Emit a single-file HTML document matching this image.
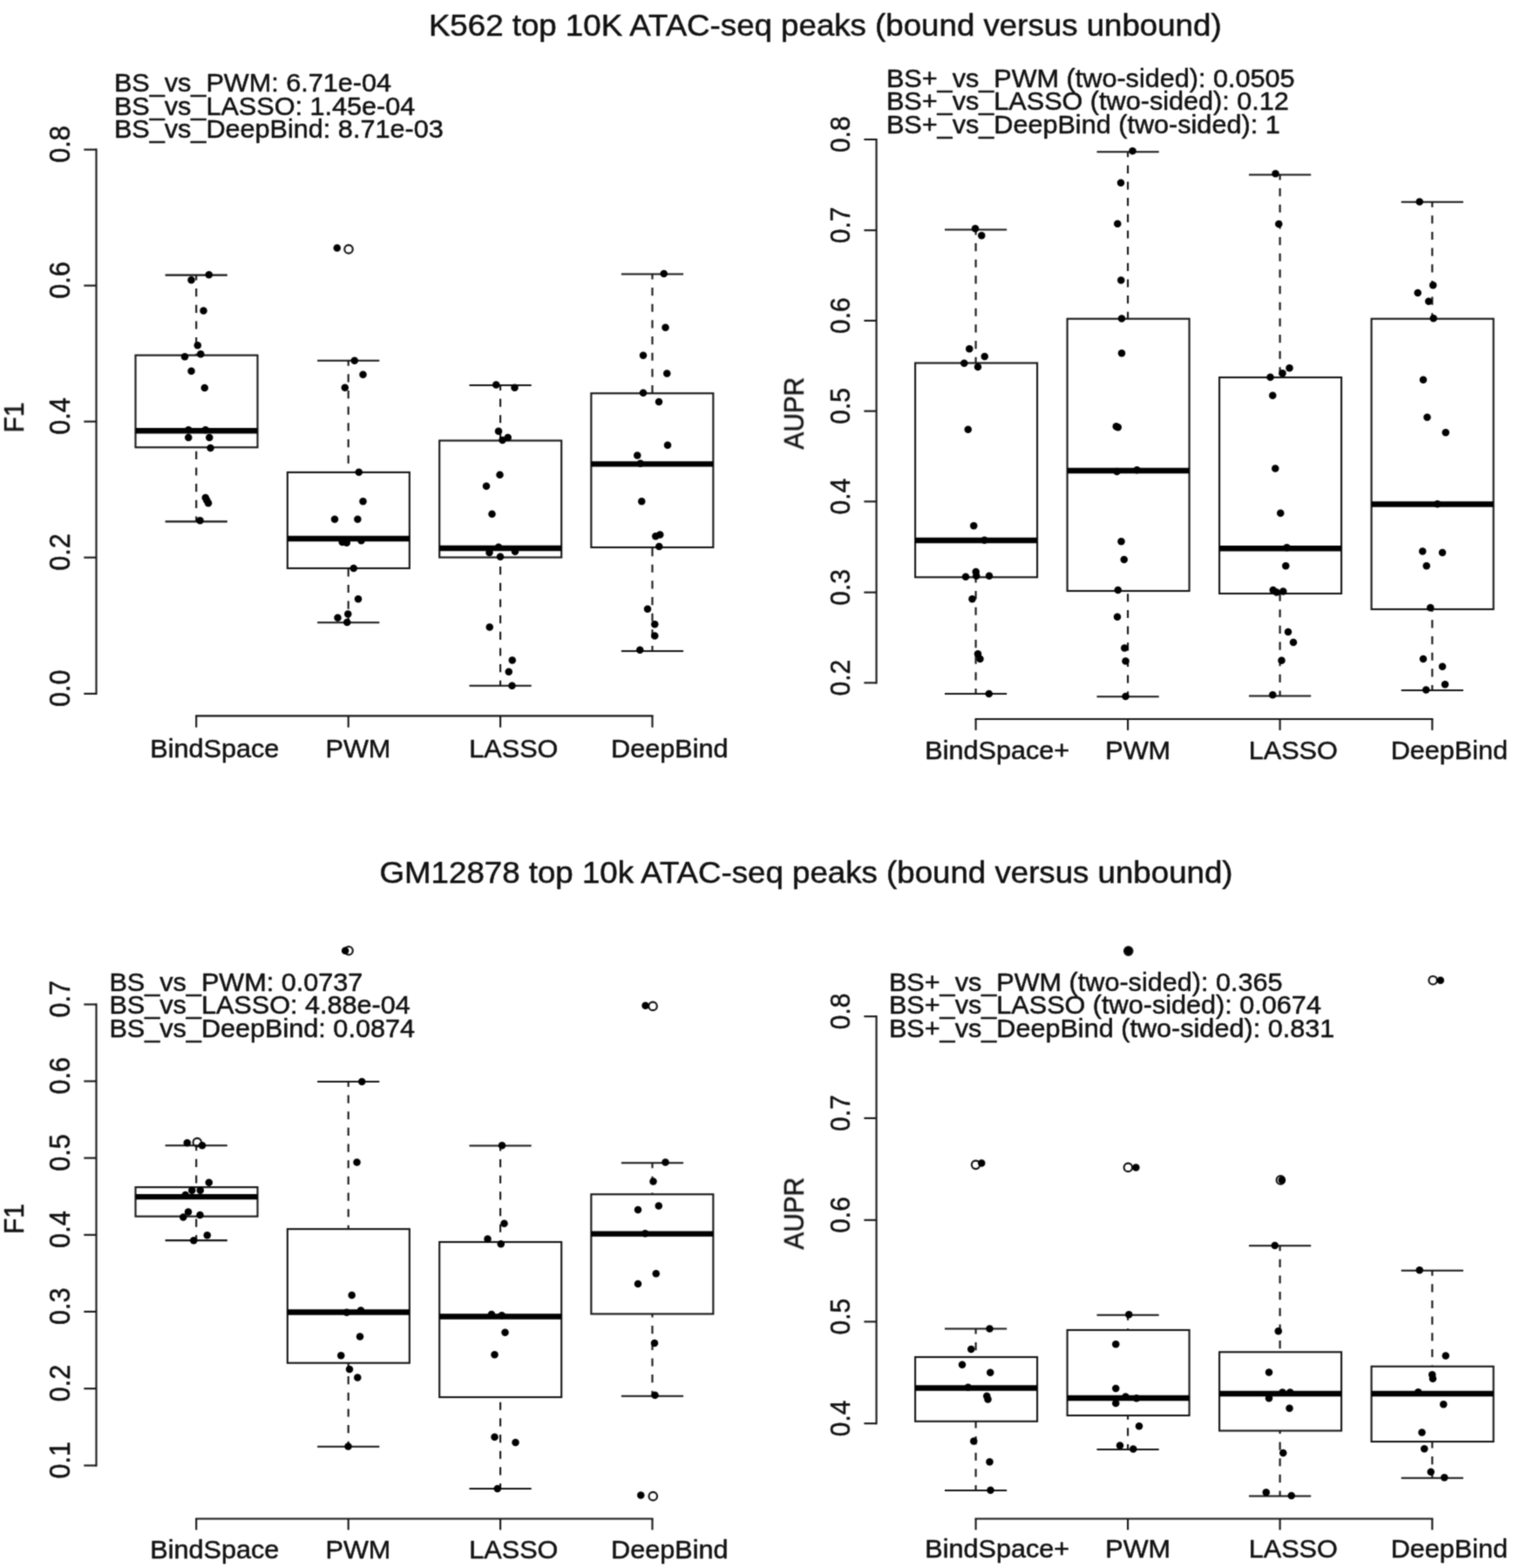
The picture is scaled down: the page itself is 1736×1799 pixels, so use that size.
<!DOCTYPE html>
<html lang="en">
<head>
<meta charset="utf-8">
<title>ATAC-seq peaks: bound versus unbound</title>
<style>
html,body{margin:0;padding:0;background:#fff;}
body{width:1736px;height:1799px;overflow:hidden;}
svg{display:block;}
.t{font-family:"Liberation Sans", Arial, Helvetica, sans-serif;fill:#111;stroke:#111;stroke-width:0.5px;stroke-linejoin:round;}
.l{stroke:#161616;stroke-width:2.1;fill:none;}
.d{stroke:#161616;stroke-width:2.1;stroke-dasharray:9.2 9.47;stroke-dashoffset:3.2;fill:none;}
.m{stroke:#000;stroke-width:6.4;fill:none;}
.b{stroke:#161616;stroke-width:2.1;fill:none;}
.p{fill:#000;}
.o{fill:none;stroke:#111;stroke-width:2.1;}
</style>
</head>
<body>
<svg width="1736" height="1799" viewBox="0 0 1736 1799">
<defs><filter id="soft" x="0" y="0" width="1736" height="1799" filterUnits="userSpaceOnUse" color-interpolation-filters="sRGB"><feConvolveMatrix order="3" kernelMatrix="0.04 0.12 0.04 0.12 0.36 0.12 0.04 0.12 0.04" divisor="1" edgeMode="duplicate" preserveAlpha="false"/></filter></defs>
<rect width="1736" height="1799" fill="#fff"/>
<g filter="url(#soft)">
<g id="p1">
<line class="l" x1="110.50" y1="170.60" x2="110.50" y2="796.95"/>
<line class="l" x1="96.30" y1="171.65" x2="110.50" y2="171.65"/>
<line class="l" x1="96.30" y1="327.65" x2="110.50" y2="327.65"/>
<line class="l" x1="96.30" y1="483.65" x2="110.50" y2="483.65"/>
<line class="l" x1="96.30" y1="639.65" x2="110.50" y2="639.65"/>
<line class="l" x1="96.30" y1="795.90" x2="110.50" y2="795.90"/>
<text class="t" transform="translate(80.30 165.45) rotate(-90) scale(0.9500 1)" font-size="32.3" text-anchor="middle">0.8</text>
<text class="t" transform="translate(80.30 321.45) rotate(-90) scale(0.9500 1)" font-size="32.3" text-anchor="middle">0.6</text>
<text class="t" transform="translate(80.30 477.45) rotate(-90) scale(0.9500 1)" font-size="32.3" text-anchor="middle">0.4</text>
<text class="t" transform="translate(80.30 633.45) rotate(-90) scale(0.9500 1)" font-size="32.3" text-anchor="middle">0.2</text>
<text class="t" transform="translate(80.30 789.70) rotate(-90) scale(0.9500 1)" font-size="32.3" text-anchor="middle">0.0</text>
<text class="t" transform="translate(27.00 479.00) rotate(-90) scale(0.9700 1)" font-size="30.9" text-anchor="middle">F1</text>
<g transform="translate(-0.4 0.5)">
<line class="l" x1="224.55" y1="820.90" x2="749.95" y2="820.90"/>
<line class="l" x1="225.60" y1="820.90" x2="225.60" y2="834.10"/>
<line class="l" x1="400.10" y1="820.90" x2="400.10" y2="834.10"/>
<line class="l" x1="574.50" y1="820.90" x2="574.50" y2="834.10"/>
<line class="l" x1="748.90" y1="820.90" x2="748.90" y2="834.10"/>
<line class="d" x1="225.60" y1="315.10" x2="225.60" y2="407.10"/>
<line class="d" x1="225.60" y1="597.90" x2="225.60" y2="512.75"/>
<line class="l" x1="190.00" y1="315.10" x2="261.20" y2="315.10"/>
<line class="l" x1="190.00" y1="597.90" x2="261.20" y2="597.90"/>
<rect class="b" x="155.90" y="407.10" width="140.00" height="105.65"/>
<line class="m" x1="155.90" y1="493.75" x2="295.90" y2="493.75"/>
<line class="d" x1="400.10" y1="413.30" x2="400.10" y2="541.40"/>
<line class="d" x1="400.10" y1="713.75" x2="400.10" y2="651.50"/>
<line class="l" x1="364.50" y1="413.30" x2="435.70" y2="413.30"/>
<line class="l" x1="364.50" y1="713.75" x2="435.70" y2="713.75"/>
<rect class="b" x="330.25" y="541.40" width="140.00" height="110.10"/>
<line class="m" x1="330.25" y1="617.50" x2="470.25" y2="617.50"/>
<line class="d" x1="574.50" y1="441.50" x2="574.50" y2="505.00"/>
<line class="d" x1="574.50" y1="786.25" x2="574.50" y2="639.00"/>
<line class="l" x1="538.90" y1="441.50" x2="610.10" y2="441.50"/>
<line class="l" x1="538.90" y1="786.25" x2="610.10" y2="786.25"/>
<rect class="b" x="504.60" y="505.00" width="140.00" height="134.00"/>
<line class="m" x1="504.60" y1="628.50" x2="644.60" y2="628.50"/>
<line class="d" x1="748.90" y1="314.00" x2="748.90" y2="450.75"/>
<line class="d" x1="748.90" y1="746.50" x2="748.90" y2="627.50"/>
<line class="l" x1="713.30" y1="314.00" x2="784.50" y2="314.00"/>
<line class="l" x1="713.30" y1="746.50" x2="784.50" y2="746.50"/>
<rect class="b" x="678.75" y="450.75" width="140.00" height="176.75"/>
<line class="m" x1="678.75" y1="531.90" x2="818.75" y2="531.90"/>
</g>
<g transform="translate(0.27 0.15)">
<circle class="o" cx="399.75" cy="285.75" r="4.75"/>
<circle class="p" cx="239.50" cy="315.00" r="4.25"/>
<circle class="p" cx="219.25" cy="321.00" r="4.25"/>
<circle class="p" cx="233.25" cy="356.25" r="4.25"/>
<circle class="p" cx="226.50" cy="396.00" r="4.25"/>
<circle class="p" cx="230.00" cy="406.00" r="4.25"/>
<circle class="p" cx="211.75" cy="409.00" r="4.25"/>
<circle class="p" cx="219.25" cy="425.50" r="4.25"/>
<circle class="p" cx="234.50" cy="444.75" r="4.25"/>
<circle class="p" cx="216.00" cy="493.10" r="4.25"/>
<circle class="p" cx="235.50" cy="493.10" r="4.25"/>
<circle class="p" cx="216.00" cy="501.75" r="4.25"/>
<circle class="p" cx="240.00" cy="501.75" r="4.25"/>
<circle class="p" cx="241.25" cy="513.75" r="4.25"/>
<circle class="p" cx="235.50" cy="570.75" r="4.25"/>
<circle class="p" cx="237.00" cy="573.75" r="4.25"/>
<circle class="p" cx="238.75" cy="577.00" r="4.25"/>
<circle class="p" cx="229.25" cy="597.00" r="4.25"/>
<circle class="p" cx="386.50" cy="284.30" r="4.25"/>
<circle class="p" cx="406.50" cy="413.50" r="4.25"/>
<circle class="p" cx="416.25" cy="429.50" r="4.25"/>
<circle class="p" cx="395.50" cy="444.50" r="4.25"/>
<circle class="p" cx="411.50" cy="541.50" r="4.25"/>
<circle class="p" cx="416.25" cy="575.00" r="4.25"/>
<circle class="p" cx="383.75" cy="595.50" r="4.25"/>
<circle class="p" cx="410.10" cy="595.50" r="4.25"/>
<circle class="p" cx="392.50" cy="621.75" r="4.25"/>
<circle class="p" cx="397.50" cy="622.50" r="4.25"/>
<circle class="p" cx="414.25" cy="620.00" r="4.25"/>
<circle class="p" cx="405.50" cy="651.75" r="4.25"/>
<circle class="p" cx="410.75" cy="687.00" r="4.25"/>
<circle class="p" cx="399.00" cy="704.25" r="4.25"/>
<circle class="p" cx="387.25" cy="708.50" r="4.25"/>
<circle class="p" cx="398.00" cy="713.75" r="4.25"/>
<circle class="p" cx="569.00" cy="441.25" r="4.25"/>
<circle class="p" cx="590.25" cy="444.50" r="4.25"/>
<circle class="p" cx="571.75" cy="494.50" r="4.25"/>
<circle class="p" cx="582.50" cy="501.90" r="4.25"/>
<circle class="p" cx="576.25" cy="504.75" r="4.25"/>
<circle class="p" cx="573.25" cy="544.60" r="4.25"/>
<circle class="p" cx="557.75" cy="557.50" r="4.25"/>
<circle class="p" cx="564.25" cy="589.60" r="4.25"/>
<circle class="p" cx="571.75" cy="627.50" r="4.25"/>
<circle class="p" cx="561.25" cy="633.75" r="4.25"/>
<circle class="p" cx="590.75" cy="632.50" r="4.25"/>
<circle class="p" cx="573.75" cy="638.50" r="4.25"/>
<circle class="p" cx="561.50" cy="719.25" r="4.25"/>
<circle class="p" cx="587.50" cy="757.25" r="4.25"/>
<circle class="p" cx="583.50" cy="770.50" r="4.25"/>
<circle class="p" cx="587.25" cy="786.50" r="4.25"/>
<circle class="p" cx="761.50" cy="313.75" r="4.25"/>
<circle class="p" cx="763.25" cy="375.50" r="4.25"/>
<circle class="p" cx="737.75" cy="407.50" r="4.25"/>
<circle class="p" cx="765.00" cy="428.25" r="4.25"/>
<circle class="p" cx="737.75" cy="450.50" r="4.25"/>
<circle class="p" cx="755.75" cy="460.75" r="4.25"/>
<circle class="p" cx="765.75" cy="510.60" r="4.25"/>
<circle class="p" cx="731.00" cy="522.25" r="4.25"/>
<circle class="p" cx="734.50" cy="531.60" r="4.25"/>
<circle class="p" cx="736.00" cy="575.10" r="4.25"/>
<circle class="p" cx="752.00" cy="615.00" r="4.25"/>
<circle class="p" cx="757.00" cy="613.25" r="4.25"/>
<circle class="p" cx="756.00" cy="626.75" r="4.25"/>
<circle class="p" cx="742.75" cy="698.50" r="4.25"/>
<circle class="p" cx="751.00" cy="716.00" r="4.25"/>
<circle class="p" cx="751.00" cy="729.25" r="4.25"/>
<circle class="p" cx="734.00" cy="745.50" r="4.25"/>
</g>
<text class="t" transform="translate(172.29 868.55) scale(1.0310 1)" font-size="29.7">BindSpace</text>
<text class="t" transform="translate(373.49 868.55) scale(1.0310 1)" font-size="29.7">PWM</text>
<text class="t" transform="translate(538.29 868.55) scale(1.0310 1)" font-size="29.7">LASSO</text>
<text class="t" transform="translate(701.09 868.55) scale(1.0310 1)" font-size="29.7">DeepBind</text>
<text class="t" transform="translate(130.89 105.20) scale(1.0310 1)" font-size="29.7">BS_vs_PWM: 6.71e-04</text>
<text class="t" transform="translate(130.89 131.80) scale(1.0310 1)" font-size="29.7">BS_vs_LASSO: 1.45e-04</text>
<text class="t" transform="translate(130.89 158.40) scale(1.0310 1)" font-size="29.7">BS_vs_DeepBind: 8.71e-03</text>
</g>
<g id="p2">
<line class="l" x1="1005.60" y1="158.95" x2="1005.60" y2="784.45"/>
<line class="l" x1="991.40" y1="160.00" x2="1005.60" y2="160.00"/>
<line class="l" x1="991.40" y1="264.20" x2="1005.60" y2="264.20"/>
<line class="l" x1="991.40" y1="367.90" x2="1005.60" y2="367.90"/>
<line class="l" x1="991.40" y1="471.65" x2="1005.60" y2="471.65"/>
<line class="l" x1="991.40" y1="575.40" x2="1005.60" y2="575.40"/>
<line class="l" x1="991.40" y1="679.65" x2="1005.60" y2="679.65"/>
<line class="l" x1="991.40" y1="783.40" x2="1005.60" y2="783.40"/>
<text class="t" transform="translate(974.80 154.20) rotate(-90) scale(0.9300 1)" font-size="32.3" text-anchor="middle">0.8</text>
<text class="t" transform="translate(974.80 258.40) rotate(-90) scale(0.9300 1)" font-size="32.3" text-anchor="middle">0.7</text>
<text class="t" transform="translate(974.80 362.10) rotate(-90) scale(0.9300 1)" font-size="32.3" text-anchor="middle">0.6</text>
<text class="t" transform="translate(974.80 465.85) rotate(-90) scale(0.9300 1)" font-size="32.3" text-anchor="middle">0.5</text>
<text class="t" transform="translate(974.80 569.60) rotate(-90) scale(0.9300 1)" font-size="32.3" text-anchor="middle">0.4</text>
<text class="t" transform="translate(974.80 673.85) rotate(-90) scale(0.9300 1)" font-size="32.3" text-anchor="middle">0.3</text>
<text class="t" transform="translate(974.80 777.60) rotate(-90) scale(0.9300 1)" font-size="32.3" text-anchor="middle">0.2</text>
<text class="t" transform="translate(921.90 474.20) rotate(-90) scale(0.9630 1)" font-size="30.9" text-anchor="middle">AUPR</text>
<g transform="translate(-0.4 0.5)">
<line class="l" x1="1118.95" y1="824.50" x2="1644.80" y2="824.50"/>
<line class="l" x1="1120.00" y1="824.50" x2="1120.00" y2="837.30"/>
<line class="l" x1="1294.50" y1="824.50" x2="1294.50" y2="837.30"/>
<line class="l" x1="1469.00" y1="824.50" x2="1469.00" y2="837.30"/>
<line class="l" x1="1643.75" y1="824.50" x2="1643.75" y2="837.30"/>
<line class="d" x1="1120.00" y1="263.00" x2="1120.00" y2="416.00"/>
<line class="d" x1="1120.00" y1="795.50" x2="1120.00" y2="661.75"/>
<line class="l" x1="1084.40" y1="263.00" x2="1155.60" y2="263.00"/>
<line class="l" x1="1084.40" y1="795.50" x2="1155.60" y2="795.50"/>
<rect class="b" x="1050.50" y="416.00" width="140.00" height="245.75"/>
<line class="m" x1="1050.50" y1="619.50" x2="1190.50" y2="619.50"/>
<line class="d" x1="1294.50" y1="173.75" x2="1294.50" y2="365.25"/>
<line class="d" x1="1294.50" y1="798.75" x2="1294.50" y2="677.50"/>
<line class="l" x1="1258.90" y1="173.75" x2="1330.10" y2="173.75"/>
<line class="l" x1="1258.90" y1="798.75" x2="1330.10" y2="798.75"/>
<rect class="b" x="1225.00" y="365.25" width="140.00" height="312.25"/>
<line class="m" x1="1225.00" y1="539.50" x2="1365.00" y2="539.50"/>
<line class="d" x1="1469.00" y1="200.00" x2="1469.00" y2="432.50"/>
<line class="d" x1="1469.00" y1="798.00" x2="1469.00" y2="680.50"/>
<line class="l" x1="1433.40" y1="200.00" x2="1504.60" y2="200.00"/>
<line class="l" x1="1433.40" y1="798.00" x2="1504.60" y2="798.00"/>
<rect class="b" x="1399.50" y="432.50" width="140.00" height="248.00"/>
<line class="m" x1="1399.50" y1="628.75" x2="1539.50" y2="628.75"/>
<line class="d" x1="1643.75" y1="231.25" x2="1643.75" y2="365.25"/>
<line class="d" x1="1643.75" y1="791.50" x2="1643.75" y2="698.50"/>
<line class="l" x1="1608.15" y1="231.25" x2="1679.35" y2="231.25"/>
<line class="l" x1="1608.15" y1="791.50" x2="1679.35" y2="791.50"/>
<rect class="b" x="1574.00" y="365.25" width="140.00" height="333.25"/>
<line class="m" x1="1574.00" y1="578.00" x2="1714.00" y2="578.00"/>
</g>
<g transform="translate(0.27 0.15)">
<circle class="p" cx="1118.75" cy="262.00" r="4.25"/>
<circle class="p" cx="1126.00" cy="270.00" r="4.25"/>
<circle class="p" cx="1112.00" cy="400.00" r="4.25"/>
<circle class="p" cx="1129.50" cy="408.75" r="4.25"/>
<circle class="p" cx="1106.00" cy="416.50" r="4.25"/>
<circle class="p" cx="1121.75" cy="420.75" r="4.25"/>
<circle class="p" cx="1110.50" cy="492.50" r="4.25"/>
<circle class="p" cx="1117.00" cy="603.00" r="4.25"/>
<circle class="p" cx="1129.25" cy="619.50" r="4.25"/>
<circle class="p" cx="1119.50" cy="655.75" r="4.25"/>
<circle class="p" cx="1107.75" cy="661.50" r="4.25"/>
<circle class="p" cx="1120.00" cy="660.50" r="4.25"/>
<circle class="p" cx="1134.75" cy="660.50" r="4.25"/>
<circle class="p" cx="1115.25" cy="687.00" r="4.25"/>
<circle class="p" cx="1121.75" cy="750.00" r="4.25"/>
<circle class="p" cx="1124.25" cy="755.75" r="4.25"/>
<circle class="p" cx="1134.50" cy="795.75" r="4.25"/>
<circle class="p" cx="1299.25" cy="173.00" r="4.25"/>
<circle class="p" cx="1285.75" cy="209.50" r="4.25"/>
<circle class="p" cx="1282.00" cy="256.50" r="4.25"/>
<circle class="p" cx="1286.00" cy="321.25" r="4.25"/>
<circle class="p" cx="1286.75" cy="365.25" r="4.25"/>
<circle class="p" cx="1286.75" cy="405.00" r="4.25"/>
<circle class="p" cx="1280.50" cy="489.00" r="4.25"/>
<circle class="p" cx="1282.50" cy="490.00" r="4.25"/>
<circle class="p" cx="1281.25" cy="540.75" r="4.25"/>
<circle class="p" cx="1304.25" cy="539.00" r="4.25"/>
<circle class="p" cx="1286.25" cy="621.00" r="4.25"/>
<circle class="p" cx="1289.50" cy="641.75" r="4.25"/>
<circle class="p" cx="1282.50" cy="676.75" r="4.25"/>
<circle class="p" cx="1281.75" cy="707.50" r="4.25"/>
<circle class="p" cx="1290.00" cy="743.25" r="4.25"/>
<circle class="p" cx="1291.25" cy="758.25" r="4.25"/>
<circle class="p" cx="1291.25" cy="798.75" r="4.25"/>
<circle class="p" cx="1463.25" cy="199.00" r="4.25"/>
<circle class="p" cx="1467.00" cy="256.75" r="4.25"/>
<circle class="p" cx="1479.25" cy="422.00" r="4.25"/>
<circle class="p" cx="1471.25" cy="428.00" r="4.25"/>
<circle class="p" cx="1457.25" cy="432.50" r="4.25"/>
<circle class="p" cx="1460.00" cy="453.50" r="4.25"/>
<circle class="p" cx="1463.00" cy="537.25" r="4.25"/>
<circle class="p" cx="1469.00" cy="588.50" r="4.25"/>
<circle class="p" cx="1476.25" cy="628.00" r="4.25"/>
<circle class="p" cx="1475.00" cy="649.00" r="4.25"/>
<circle class="p" cx="1460.50" cy="676.75" r="4.25"/>
<circle class="p" cx="1464.50" cy="679.25" r="4.25"/>
<circle class="p" cx="1472.00" cy="678.25" r="4.25"/>
<circle class="p" cx="1477.75" cy="724.75" r="4.25"/>
<circle class="p" cx="1483.75" cy="736.75" r="4.25"/>
<circle class="p" cx="1470.25" cy="757.50" r="4.25"/>
<circle class="p" cx="1460.00" cy="797.00" r="4.25"/>
<circle class="p" cx="1628.50" cy="231.25" r="4.25"/>
<circle class="p" cx="1644.00" cy="327.00" r="4.25"/>
<circle class="p" cx="1626.50" cy="335.75" r="4.25"/>
<circle class="p" cx="1639.00" cy="345.50" r="4.25"/>
<circle class="p" cx="1644.50" cy="365.00" r="4.25"/>
<circle class="p" cx="1632.75" cy="435.50" r="4.25"/>
<circle class="p" cx="1637.25" cy="478.50" r="4.25"/>
<circle class="p" cx="1658.50" cy="496.00" r="4.25"/>
<circle class="p" cx="1649.00" cy="578.00" r="4.25"/>
<circle class="p" cx="1632.00" cy="632.25" r="4.25"/>
<circle class="p" cx="1654.75" cy="633.75" r="4.25"/>
<circle class="p" cx="1636.50" cy="649.00" r="4.25"/>
<circle class="p" cx="1641.00" cy="697.00" r="4.25"/>
<circle class="p" cx="1632.75" cy="755.75" r="4.25"/>
<circle class="p" cx="1654.75" cy="764.50" r="4.25"/>
<circle class="p" cx="1657.75" cy="785.00" r="4.25"/>
<circle class="p" cx="1636.00" cy="791.25" r="4.25"/>
</g>
<text class="t" transform="translate(1061.29 871.25) scale(1.0310 1)" font-size="29.7">BindSpace+</text>
<text class="t" transform="translate(1268.24 871.25) scale(1.0310 1)" font-size="29.7">PWM</text>
<text class="t" transform="translate(1432.69 871.25) scale(1.0310 1)" font-size="29.7">LASSO</text>
<text class="t" transform="translate(1595.69 871.25) scale(1.0310 1)" font-size="29.7">DeepBind</text>
<text class="t" transform="translate(1016.89 99.95) scale(1.0310 1)" font-size="29.7">BS+_vs_PWM (two-sided): 0.0505</text>
<text class="t" transform="translate(1016.89 126.25) scale(1.0310 1)" font-size="29.7">BS+_vs_LASSO (two-sided): 0.12</text>
<text class="t" transform="translate(1016.89 152.60) scale(1.0310 1)" font-size="29.7">BS+_vs_DeepBind (two-sided): 1</text>
</g>
<g id="p3">
<line class="l" x1="110.50" y1="1151.35" x2="110.50" y2="1682.45"/>
<line class="l" x1="96.30" y1="1152.40" x2="110.50" y2="1152.40"/>
<line class="l" x1="96.30" y1="1240.50" x2="110.50" y2="1240.50"/>
<line class="l" x1="96.30" y1="1328.60" x2="110.50" y2="1328.60"/>
<line class="l" x1="96.30" y1="1416.80" x2="110.50" y2="1416.80"/>
<line class="l" x1="96.30" y1="1504.90" x2="110.50" y2="1504.90"/>
<line class="l" x1="96.30" y1="1593.15" x2="110.50" y2="1593.15"/>
<line class="l" x1="96.30" y1="1681.40" x2="110.50" y2="1681.40"/>
<text class="t" transform="translate(80.30 1146.20) rotate(-90) scale(0.9500 1)" font-size="32.3" text-anchor="middle">0.7</text>
<text class="t" transform="translate(80.30 1234.30) rotate(-90) scale(0.9500 1)" font-size="32.3" text-anchor="middle">0.6</text>
<text class="t" transform="translate(80.30 1322.40) rotate(-90) scale(0.9500 1)" font-size="32.3" text-anchor="middle">0.5</text>
<text class="t" transform="translate(80.30 1410.60) rotate(-90) scale(0.9500 1)" font-size="32.3" text-anchor="middle">0.4</text>
<text class="t" transform="translate(80.30 1498.70) rotate(-90) scale(0.9500 1)" font-size="32.3" text-anchor="middle">0.3</text>
<text class="t" transform="translate(80.30 1586.95) rotate(-90) scale(0.9500 1)" font-size="32.3" text-anchor="middle">0.2</text>
<text class="t" transform="translate(80.30 1675.20) rotate(-90) scale(0.9500 1)" font-size="32.3" text-anchor="middle">0.1</text>
<text class="t" transform="translate(27.00 1398.50) rotate(-90) scale(0.9700 1)" font-size="30.9" text-anchor="middle">F1</text>
<g transform="translate(-0.4 0.5)">
<line class="l" x1="224.55" y1="1742.00" x2="749.95" y2="1742.00"/>
<line class="l" x1="225.60" y1="1742.00" x2="225.60" y2="1754.80"/>
<line class="l" x1="400.10" y1="1742.00" x2="400.10" y2="1754.80"/>
<line class="l" x1="574.50" y1="1742.00" x2="574.50" y2="1754.80"/>
<line class="l" x1="748.90" y1="1742.00" x2="748.90" y2="1754.80"/>
<line class="d" x1="225.60" y1="1313.75" x2="225.60" y2="1361.60"/>
<line class="d" x1="225.60" y1="1422.60" x2="225.60" y2="1395.10"/>
<line class="l" x1="190.00" y1="1313.75" x2="261.20" y2="1313.75"/>
<line class="l" x1="190.00" y1="1422.60" x2="261.20" y2="1422.60"/>
<rect class="b" x="155.90" y="1361.60" width="140.00" height="33.50"/>
<line class="m" x1="155.90" y1="1372.60" x2="295.90" y2="1372.60"/>
<line class="d" x1="400.10" y1="1240.50" x2="400.10" y2="1409.60"/>
<line class="d" x1="400.10" y1="1659.25" x2="400.10" y2="1563.25"/>
<line class="l" x1="364.50" y1="1240.50" x2="435.70" y2="1240.50"/>
<line class="l" x1="364.50" y1="1659.25" x2="435.70" y2="1659.25"/>
<rect class="b" x="330.25" y="1409.60" width="140.00" height="153.65"/>
<line class="m" x1="330.25" y1="1505.00" x2="470.25" y2="1505.00"/>
<line class="d" x1="574.50" y1="1314.00" x2="574.50" y2="1424.50"/>
<line class="d" x1="574.50" y1="1707.50" x2="574.50" y2="1602.50"/>
<line class="l" x1="538.90" y1="1314.00" x2="610.10" y2="1314.00"/>
<line class="l" x1="538.90" y1="1707.50" x2="610.10" y2="1707.50"/>
<rect class="b" x="504.60" y="1424.50" width="140.00" height="178.00"/>
<line class="m" x1="504.60" y1="1510.00" x2="644.60" y2="1510.00"/>
<line class="d" x1="748.90" y1="1333.75" x2="748.90" y2="1369.75"/>
<line class="d" x1="748.90" y1="1601.25" x2="748.90" y2="1507.00"/>
<line class="l" x1="713.30" y1="1333.75" x2="784.50" y2="1333.75"/>
<line class="l" x1="713.30" y1="1601.25" x2="784.50" y2="1601.25"/>
<rect class="b" x="678.75" y="1369.75" width="140.00" height="137.25"/>
<line class="m" x1="678.75" y1="1415.10" x2="818.75" y2="1415.10"/>
</g>
<g transform="translate(0.27 0.15)">
<circle class="o" cx="226.00" cy="1310.50" r="4.75"/>
<circle class="o" cx="399.80" cy="1090.60" r="4.75"/>
<circle class="o" cx="748.80" cy="1154.25" r="4.75"/>
<circle class="o" cx="749.00" cy="1716.50" r="4.75"/>
<circle class="p" cx="214.50" cy="1311.00" r="4.25"/>
<circle class="p" cx="231.75" cy="1314.00" r="4.25"/>
<circle class="p" cx="239.50" cy="1356.50" r="4.25"/>
<circle class="p" cx="220.00" cy="1365.50" r="4.25"/>
<circle class="p" cx="229.50" cy="1365.50" r="4.25"/>
<circle class="p" cx="212.50" cy="1370.75" r="4.25"/>
<circle class="p" cx="215.75" cy="1390.25" r="4.25"/>
<circle class="p" cx="210.00" cy="1396.25" r="4.25"/>
<circle class="p" cx="229.25" cy="1393.75" r="4.25"/>
<circle class="p" cx="237.50" cy="1417.00" r="4.25"/>
<circle class="p" cx="222.00" cy="1423.00" r="4.25"/>
<circle class="p" cx="395.83" cy="1090.60" r="4.25"/>
<circle class="p" cx="415.00" cy="1240.75" r="4.25"/>
<circle class="p" cx="409.25" cy="1333.25" r="4.25"/>
<circle class="p" cx="403.40" cy="1485.75" r="4.25"/>
<circle class="p" cx="397.50" cy="1505.50" r="4.25"/>
<circle class="p" cx="413.75" cy="1503.25" r="4.25"/>
<circle class="p" cx="412.75" cy="1533.25" r="4.25"/>
<circle class="p" cx="391.00" cy="1555.00" r="4.25"/>
<circle class="p" cx="400.75" cy="1570.75" r="4.25"/>
<circle class="p" cx="410.00" cy="1580.25" r="4.25"/>
<circle class="p" cx="399.25" cy="1659.25" r="4.25"/>
<circle class="p" cx="575.75" cy="1314.00" r="4.25"/>
<circle class="p" cx="578.25" cy="1403.60" r="4.25"/>
<circle class="p" cx="559.25" cy="1421.40" r="4.25"/>
<circle class="p" cx="574.50" cy="1427.10" r="4.25"/>
<circle class="p" cx="563.75" cy="1507.75" r="4.25"/>
<circle class="p" cx="575.50" cy="1509.00" r="4.25"/>
<circle class="p" cx="579.25" cy="1528.50" r="4.25"/>
<circle class="p" cx="567.25" cy="1554.00" r="4.25"/>
<circle class="p" cx="567.25" cy="1648.50" r="4.25"/>
<circle class="p" cx="591.25" cy="1654.75" r="4.25"/>
<circle class="p" cx="570.50" cy="1707.75" r="4.25"/>
<circle class="p" cx="740.30" cy="1153.70" r="4.25"/>
<circle class="p" cx="763.25" cy="1333.25" r="4.25"/>
<circle class="p" cx="749.25" cy="1355.40" r="4.25"/>
<circle class="p" cx="755.50" cy="1383.25" r="4.25"/>
<circle class="p" cx="731.75" cy="1387.75" r="4.25"/>
<circle class="p" cx="740.00" cy="1415.00" r="4.25"/>
<circle class="p" cx="752.50" cy="1461.10" r="4.25"/>
<circle class="p" cx="731.75" cy="1472.75" r="4.25"/>
<circle class="p" cx="750.75" cy="1540.75" r="4.25"/>
<circle class="p" cx="751.25" cy="1600.50" r="4.25"/>
<circle class="p" cx="735.00" cy="1715.25" r="4.25"/>
</g>
<text class="t" transform="translate(172.29 1787.50) scale(1.0310 1)" font-size="29.7">BindSpace</text>
<text class="t" transform="translate(373.49 1787.50) scale(1.0310 1)" font-size="29.7">PWM</text>
<text class="t" transform="translate(538.29 1787.50) scale(1.0310 1)" font-size="29.7">LASSO</text>
<text class="t" transform="translate(701.09 1787.50) scale(1.0310 1)" font-size="29.7">DeepBind</text>
<text class="t" transform="translate(125.39 1136.50) scale(1.0310 1)" font-size="29.7">BS_vs_PWM: 0.0737</text>
<text class="t" transform="translate(125.39 1163.20) scale(1.0310 1)" font-size="29.7">BS_vs_LASSO: 4.88e-04</text>
<text class="t" transform="translate(125.39 1189.80) scale(1.0310 1)" font-size="29.7">BS_vs_DeepBind: 0.0874</text>
</g>
<g id="p4">
<line class="l" x1="1005.60" y1="1165.10" x2="1005.60" y2="1634.20"/>
<line class="l" x1="991.40" y1="1166.15" x2="1005.60" y2="1166.15"/>
<line class="l" x1="991.40" y1="1282.90" x2="1005.60" y2="1282.90"/>
<line class="l" x1="991.40" y1="1399.80" x2="1005.60" y2="1399.80"/>
<line class="l" x1="991.40" y1="1516.40" x2="1005.60" y2="1516.40"/>
<line class="l" x1="991.40" y1="1633.15" x2="1005.60" y2="1633.15"/>
<text class="t" transform="translate(974.80 1160.35) rotate(-90) scale(0.9300 1)" font-size="32.3" text-anchor="middle">0.8</text>
<text class="t" transform="translate(974.80 1277.10) rotate(-90) scale(0.9300 1)" font-size="32.3" text-anchor="middle">0.7</text>
<text class="t" transform="translate(974.80 1394.00) rotate(-90) scale(0.9300 1)" font-size="32.3" text-anchor="middle">0.6</text>
<text class="t" transform="translate(974.80 1510.60) rotate(-90) scale(0.9300 1)" font-size="32.3" text-anchor="middle">0.5</text>
<text class="t" transform="translate(974.80 1627.35) rotate(-90) scale(0.9300 1)" font-size="32.3" text-anchor="middle">0.4</text>
<text class="t" transform="translate(921.90 1392.20) rotate(-90) scale(0.9630 1)" font-size="30.9" text-anchor="middle">AUPR</text>
<g transform="translate(-0.4 0.5)">
<line class="l" x1="1118.95" y1="1742.00" x2="1644.80" y2="1742.00"/>
<line class="l" x1="1120.00" y1="1742.00" x2="1120.00" y2="1754.80"/>
<line class="l" x1="1294.50" y1="1742.00" x2="1294.50" y2="1754.80"/>
<line class="l" x1="1469.00" y1="1742.00" x2="1469.00" y2="1754.80"/>
<line class="l" x1="1643.75" y1="1742.00" x2="1643.75" y2="1754.80"/>
<line class="d" x1="1120.00" y1="1524.00" x2="1120.00" y2="1556.50"/>
<line class="d" x1="1120.00" y1="1709.50" x2="1120.00" y2="1630.25"/>
<line class="l" x1="1084.40" y1="1524.00" x2="1155.60" y2="1524.00"/>
<line class="l" x1="1084.40" y1="1709.50" x2="1155.60" y2="1709.50"/>
<rect class="b" x="1050.50" y="1556.50" width="140.00" height="73.75"/>
<line class="m" x1="1050.50" y1="1592.00" x2="1190.50" y2="1592.00"/>
<line class="d" x1="1294.50" y1="1508.25" x2="1294.50" y2="1525.50"/>
<line class="d" x1="1294.50" y1="1662.50" x2="1294.50" y2="1623.50"/>
<line class="l" x1="1258.90" y1="1508.25" x2="1330.10" y2="1508.25"/>
<line class="l" x1="1258.90" y1="1662.50" x2="1330.10" y2="1662.50"/>
<rect class="b" x="1225.00" y="1525.50" width="140.00" height="98.00"/>
<line class="m" x1="1225.00" y1="1603.50" x2="1365.00" y2="1603.50"/>
<line class="d" x1="1469.00" y1="1428.75" x2="1469.00" y2="1550.75"/>
<line class="d" x1="1469.00" y1="1716.00" x2="1469.00" y2="1641.00"/>
<line class="l" x1="1433.40" y1="1428.75" x2="1504.60" y2="1428.75"/>
<line class="l" x1="1433.40" y1="1716.00" x2="1504.60" y2="1716.00"/>
<rect class="b" x="1399.50" y="1550.75" width="140.00" height="90.25"/>
<line class="m" x1="1399.50" y1="1598.50" x2="1539.50" y2="1598.50"/>
<line class="d" x1="1643.75" y1="1457.25" x2="1643.75" y2="1567.25"/>
<line class="d" x1="1643.75" y1="1695.25" x2="1643.75" y2="1653.50"/>
<line class="l" x1="1608.15" y1="1457.25" x2="1679.35" y2="1457.25"/>
<line class="l" x1="1608.15" y1="1695.25" x2="1679.35" y2="1695.25"/>
<rect class="b" x="1574.00" y="1567.25" width="140.00" height="86.25"/>
<line class="m" x1="1574.00" y1="1598.50" x2="1714.00" y2="1598.50"/>
</g>
<g transform="translate(0.27 0.15)">
<circle class="o" cx="1119.30" cy="1336.20" r="4.75"/>
<circle class="o" cx="1294.10" cy="1339.25" r="4.75"/>
<circle class="o" cx="1469.10" cy="1353.75" r="4.75"/>
<circle class="o" cx="1643.90" cy="1124.55" r="4.75"/>
<circle class="o" cx="1294.45" cy="1090.95" r="4.75"/>
<circle class="p" cx="1126.00" cy="1334.40" r="4.25"/>
<circle class="p" cx="1135.25" cy="1524.25" r="4.25"/>
<circle class="p" cx="1114.00" cy="1547.75" r="4.25"/>
<circle class="p" cx="1103.75" cy="1565.50" r="4.25"/>
<circle class="p" cx="1136.00" cy="1574.50" r="4.25"/>
<circle class="p" cx="1110.50" cy="1591.50" r="4.25"/>
<circle class="p" cx="1132.00" cy="1601.50" r="4.25"/>
<circle class="p" cx="1133.25" cy="1605.25" r="4.25"/>
<circle class="p" cx="1117.00" cy="1653.25" r="4.25"/>
<circle class="p" cx="1135.25" cy="1677.00" r="4.25"/>
<circle class="p" cx="1136.25" cy="1709.50" r="4.25"/>
<circle class="p" cx="1294.45" cy="1090.95" r="4.25"/>
<circle class="p" cx="1303.10" cy="1339.25" r="4.25"/>
<circle class="p" cx="1295.00" cy="1508.00" r="4.25"/>
<circle class="p" cx="1280.00" cy="1542.00" r="4.25"/>
<circle class="p" cx="1280.00" cy="1592.75" r="4.25"/>
<circle class="p" cx="1291.25" cy="1602.25" r="4.25"/>
<circle class="p" cx="1303.75" cy="1604.00" r="4.25"/>
<circle class="p" cx="1280.00" cy="1609.75" r="4.25"/>
<circle class="p" cx="1306.75" cy="1636.00" r="4.25"/>
<circle class="p" cx="1284.75" cy="1658.25" r="4.25"/>
<circle class="p" cx="1300.00" cy="1662.25" r="4.25"/>
<circle class="p" cx="1470.60" cy="1353.90" r="4.25"/>
<circle class="p" cx="1462.50" cy="1428.75" r="4.25"/>
<circle class="p" cx="1466.50" cy="1527.00" r="4.25"/>
<circle class="p" cx="1455.75" cy="1574.25" r="4.25"/>
<circle class="p" cx="1471.25" cy="1597.25" r="4.25"/>
<circle class="p" cx="1480.00" cy="1597.25" r="4.25"/>
<circle class="p" cx="1455.75" cy="1604.00" r="4.25"/>
<circle class="p" cx="1479.25" cy="1615.50" r="4.25"/>
<circle class="p" cx="1472.00" cy="1666.75" r="4.25"/>
<circle class="p" cx="1452.50" cy="1712.00" r="4.25"/>
<circle class="p" cx="1481.50" cy="1715.75" r="4.25"/>
<circle class="p" cx="1652.55" cy="1124.55" r="4.25"/>
<circle class="p" cx="1628.50" cy="1457.00" r="4.25"/>
<circle class="p" cx="1658.50" cy="1555.25" r="4.25"/>
<circle class="p" cx="1643.00" cy="1577.00" r="4.25"/>
<circle class="p" cx="1643.75" cy="1581.50" r="4.25"/>
<circle class="p" cx="1627.00" cy="1597.00" r="4.25"/>
<circle class="p" cx="1656.00" cy="1611.00" r="4.25"/>
<circle class="p" cx="1631.25" cy="1643.25" r="4.25"/>
<circle class="p" cx="1634.00" cy="1662.00" r="4.25"/>
<circle class="p" cx="1641.50" cy="1688.50" r="4.25"/>
<circle class="p" cx="1657.00" cy="1695.00" r="4.25"/>
</g>
<text class="t" transform="translate(1061.29 1787.20) scale(1.0310 1)" font-size="29.7">BindSpace+</text>
<text class="t" transform="translate(1268.24 1787.20) scale(1.0310 1)" font-size="29.7">PWM</text>
<text class="t" transform="translate(1432.69 1787.20) scale(1.0310 1)" font-size="29.7">LASSO</text>
<text class="t" transform="translate(1595.69 1787.20) scale(1.0310 1)" font-size="29.7">DeepBind</text>
<text class="t" transform="translate(1019.89 1136.50) scale(1.0310 1)" font-size="29.7">BS+_vs_PWM (two-sided): 0.365</text>
<text class="t" transform="translate(1019.89 1163.20) scale(1.0310 1)" font-size="29.7">BS+_vs_LASSO (two-sided): 0.0674</text>
<text class="t" transform="translate(1019.89 1189.80) scale(1.0310 1)" font-size="29.7">BS+_vs_DeepBind (two-sided): 0.831</text>
</g>
<text class="t" transform="translate(491.89 40.60) scale(1.0630 1)" font-size="34.5">K562 top 10K ATAC-seq peaks (bound versus unbound)</text>
<text class="t" transform="translate(435.56 1012.50) scale(1.0630 1)" font-size="34.5">GM12878 top 10k ATAC-seq peaks (bound versus unbound)</text>
</g>
</svg>
</body>
</html>
